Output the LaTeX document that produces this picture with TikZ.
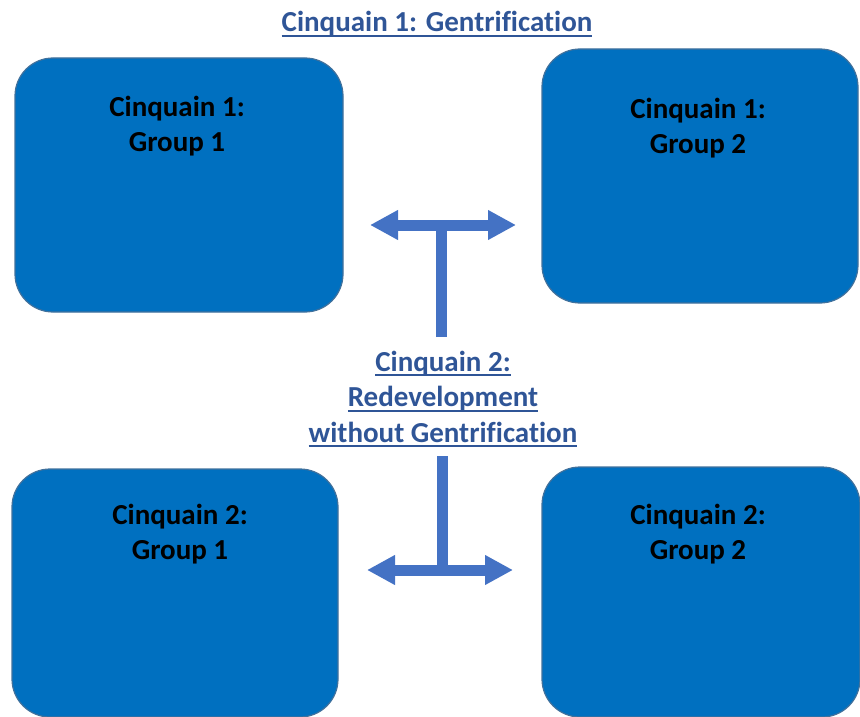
\documentclass[tikz,border=0pt]{standalone}
\usepackage{fontspec}
\setmainfont{Carlito}[Ligatures=NoCommon]
\usetikzlibrary{arrows.meta}

\definecolor{boxfill}{HTML}{0070C0}
\definecolor{boxedge}{HTML}{41719C}
\definecolor{arrowblue}{HTML}{4472C4}
\definecolor{headblue}{HTML}{2F5597}

% underline drawn as a rule under the whole box, spaces included
\newcommand\ulbar[1]{\leavevmode\setbox0=\hbox{#1}\rlap{\rule[-5pt]{\wd0}{2pt}}\box0}

\tikzset{
  groupbox/.style={draw=boxedge, line width=1.2pt, fill=boxfill,
    rounded corners=38pt, inner sep=0pt},
  grouplabel/.style={font=\fontsize{29}{35}\selectfont\bfseries, text=black,
    align=center, inner sep=0pt, anchor=base},
  headline/.style={font=\fontsize{29}{35.5}\selectfont\bfseries, text=headblue,
    align=center, inner sep=0pt, anchor=base},
  link/.style={draw=arrowblue, line width=11pt},
  twoway/.style={link, {Triangle[length=28pt,width=28pt]}-{Triangle[length=28pt,width=28pt]}}
}

\begin{document}
\begin{tikzpicture}[x=1pt, y=-1pt]
  \useasboundingbox (0,0) rectangle (860,717);

  % title
  \node[headline] (title) at (437,32) {\ulbar{Cinquain 1: Gentrification}};

  % the four group boxes
  \node[groupbox, minimum width=328pt, minimum height=254pt] (c1g1) at (179,185) {};
  \node[groupbox, minimum width=316pt, minimum height=254pt] (c1g2) at (700,176) {};
  \node[groupbox, minimum width=326pt, minimum height=248pt] (c2g1) at (175,593) {};
  \node[groupbox, minimum width=318pt, minimum height=250pt] (c2g2) at (701,592) {};

  % labels: the base anchor sits on the last line
  \node[grouplabel] (l11) at (177,151) {Cinquain 1:\\Group 1};
  \node[grouplabel] (l12) at (698,153) {Cinquain 1:\\Group 2};
  \node[grouplabel] (l21) at (180,559) {Cinquain 2:\\Group 1};
  \node[grouplabel] (l22) at (698,559) {Cinquain 2:\\Group 2};

  % second cinquain heading in the middle
  \node[headline] (mid) at (443,442)
    {\ulbar{Cinquain 2:}\\\ulbar{Redevelopment}\\\ulbar{without Gentrification}};

  % upper T connector
  \coordinate (t1l) at (370,225);
  \coordinate (t1r) at (516,225);
  \coordinate (t1j) at (441,225);
  \coordinate (t1s) at (441,337);
  \draw[twoway] (t1l) -- (t1r);
  \draw[link] (t1s) -- (t1j);

  % lower T connector
  \coordinate (t2l) at (367,570);
  \coordinate (t2r) at (513,570);
  \coordinate (t2j) at (442,570);
  \coordinate (t2s) at (442,456);
  \draw[twoway] (t2l) -- (t2r);
  \draw[link] (t2s) -- (t2j);
\end{tikzpicture}
\end{document}
